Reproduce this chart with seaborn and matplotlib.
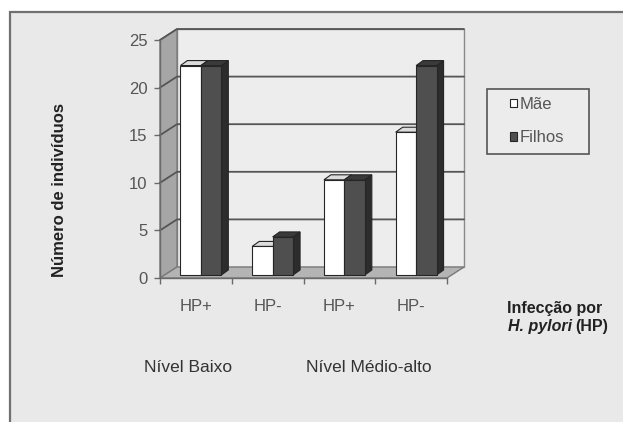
import matplotlib
matplotlib.use("Agg")
import matplotlib.pyplot as plt
import matplotlib.transforms as mtransforms
from matplotlib.patches import Polygon, Rectangle
import numpy as np
import pandas as pd
import seaborn as sns

# ---- data -------------------------------------------------------------
categorias = ["Baixo HP+", "Baixo HP-", "Médio-alto HP+", "Médio-alto HP-"]
rotulos = ["HP+", "HP-", "HP+", "HP-"]
series = ["Mãe", "Filhos"]
mae = [22, 3, 10, 15]
filhos = [22, 4, 10, 22]
niveis = ["Nível Baixo", "Nível Médio-alto"]
yticks = [0, 5, 10, 15, 20, 25]

df = pd.DataFrame({
    "categoria": categorias * 2,
    "serie": [series[0]] * 4 + [series[1]] * 4,
    "n": mae + filhos,
})

# ---- styling ----------------------------------------------------------
sns.set_theme(style="white")
plt.rcParams["font.family"] = ["Liberation Sans", "DejaVu Sans"]

W, H, DPI = 623, 422, 100
fig = plt.figure(figsize=(W / DPI, H / DPI), dpi=DPI)
fig.patch.set_facecolor("white")

# framed chart area
fig.add_artist(Rectangle((10 / W, -0.1), 1.2, 1 - 12 / H + 0.1,
                         transform=fig.transFigure, facecolor="#e9e9e9",
                         edgecolor="#707070", lw=1.6, zorder=-1))

ax_l, ax_r, ax_t, ax_b = 160, 447, 40, 278
ax = fig.add_axes([ax_l / W, 1 - ax_b / H, (ax_r - ax_l) / W, (ax_b - ax_t) / H])
ax.patch.set_alpha(0)

sns.barplot(data=df, x="categoria", y="n", hue="serie", order=categorias,
            hue_order=series, palette=["white", "#4f4f4f"], width=0.57,
            edgecolor="#262626", linewidth=0.8, legend=False, ax=ax,
            zorder=3)
ax.set_xlim(-0.5, 3.5)
ax.set_ylim(0, 25)

# pixel -> data conversions
px_x = 4.0 / (ax_r - ax_l)
px_y = 25.0 / (ax_b - ax_t)

# walls and floor of the 3D box
dxw, dyw = 17 * px_x, 11 * px_y
x0, x1 = -0.5, 3.5
back = Polygon([(x0 + dxw, dyw), (x1 + dxw, dyw), (x1 + dxw, 25 + dyw),
                (x0 + dxw, 25 + dyw)], closed=True, facecolor="#ededed",
               edgecolor="#8a8a8a", lw=1.0, zorder=0.5, clip_on=False)
side = Polygon([(x0, 0), (x0 + dxw, dyw), (x0 + dxw, 25 + dyw), (x0, 25)],
               closed=True, facecolor="#a6a6a6", edgecolor="#7a7a7a",
               lw=1.0, zorder=1, clip_on=False)
floor = Polygon([(x0, 0), (x1, 0), (x1 + dxw, dyw), (x0 + dxw, dyw)],
                closed=True, facecolor="#b4b4b4", edgecolor="#7a7a7a",
                lw=1.0, zorder=1, clip_on=False)
for p in (back, side, floor):
    ax.add_patch(p)
for v in yticks[1:]:
    ax.plot([x0, x0 + dxw, x1 + dxw], [v, v + dyw, v + dyw],
            color="#555555", lw=1.3, zorder=1.2, clip_on=False)

# bars: shift into the box and add top/side faces behind the front faces
shift = mtransforms.ScaledTranslation(5 / DPI, 3 / DPI, fig.dpi_scale_trans)
ddx, ddy = 7 * px_x, 5 * px_y
faces = [("#dcdcdc", "#bcbcbc"), ("#3a3a3a", "#2c2c2c")]
for i, cont in enumerate(ax.containers):
    top_c, side_c = faces[i]
    for bar in cont:
        bar.set_transform(ax.transData + shift)
        bx, bw, bh = bar.get_x(), bar.get_width(), bar.get_height()
        top = Polygon([(bx, bh), (bx + bw, bh), (bx + bw + ddx, bh + ddy),
                       (bx + ddx, bh + ddy)], closed=True, facecolor=top_c,
                      edgecolor="#262626", lw=0.8, zorder=2.5,
                      transform=ax.transData + shift, clip_on=False)
        sd = Polygon([(bx + bw, 0), (bx + bw + ddx, ddy),
                      (bx + bw + ddx, bh + ddy), (bx + bw, bh)], closed=True,
                     facecolor=side_c, edgecolor="#262626", lw=0.8,
                     zorder=2.5, transform=ax.transData + shift,
                     clip_on=False)
        ax.add_patch(sd)
        ax.add_patch(top)

# axes, ticks and labels
sns.despine(ax=ax, top=True, right=True)
for s in ("left", "bottom"):
    ax.spines[s].set_color("#6a6a6a")
    ax.spines[s].set_linewidth(1.0)
    ax.spines[s].set_zorder(1.5)
ax.set_yticks(yticks)
ax.set_yticklabels([str(v) for v in yticks])
ax.set_xticks([-0.5, 0.5, 1.5, 2.5, 3.5])
ax.set_xticklabels([])
ax.set_xticks(range(4), minor=True)
ax.set_xticklabels(rotulos, minor=True)
ax.tick_params(axis="y", which="major", left=True, length=4, width=1,
               color="#6a6a6a", pad=5, labelsize=12, labelcolor="#555555")
ax.tick_params(axis="x", which="major", bottom=True, length=4, width=1,
               color="#6a6a6a")
ax.tick_params(axis="x", which="minor", bottom=True, length=0, pad=15,
               labelsize=12, labelcolor="#555555")
ax.set_xlabel("")
ax.set_ylabel("")

fig.text(60 / W, 1 - 190 / H, "Número de indivíduos", rotation=90,
         ha="center", va="center", fontsize=12, fontweight="bold",
         color="#222222")
fig.text(188 / W, 1 - 367 / H, niveis[0], ha="center", va="center",
         fontsize=12.5, color="#333333")
fig.text(369 / W, 1 - 367 / H, niveis[1], ha="center", va="center",
         fontsize=12.5, color="#333333")
fig.text(555 / W, 1 - 308 / H, "Infecção por", ha="center", va="center",
         fontsize=11.5, fontweight="bold", color="#222222")
fig.text(572 / W, 1 - 326 / H, "H. pylori", ha="right", va="center",
         fontsize=11.5, fontweight="bold", fontstyle="italic",
         color="#222222")
fig.text(575 / W, 1 - 326 / H, "(HP)", ha="left", va="center",
         fontsize=11.5, fontweight="bold", color="#222222")

# legend box and entries
ax.add_patch(Rectangle((487 / W, 1 - 154 / H), 102 / W, 65 / H,
                       transform=fig.transFigure, facecolor="#ececec",
                       edgecolor="#555555", lw=1.2, zorder=4,
                       clip_on=False))
leg = ax.legend(handles=ax.containers, labels=series, loc="upper left",
                bbox_to_anchor=(510 / W, 1 - 97 / H),
                bbox_transform=fig.transFigure, fontsize=12, frameon=False,
                handlelength=0.4, handleheight=0.4, handletextpad=0.15,
                labelspacing=1.1, borderpad=0, borderaxespad=0)
leg.set_zorder(5)
for t in leg.get_texts():
    t.set_color("#555555")

fig.savefig("out.png", dpi=DPI)
